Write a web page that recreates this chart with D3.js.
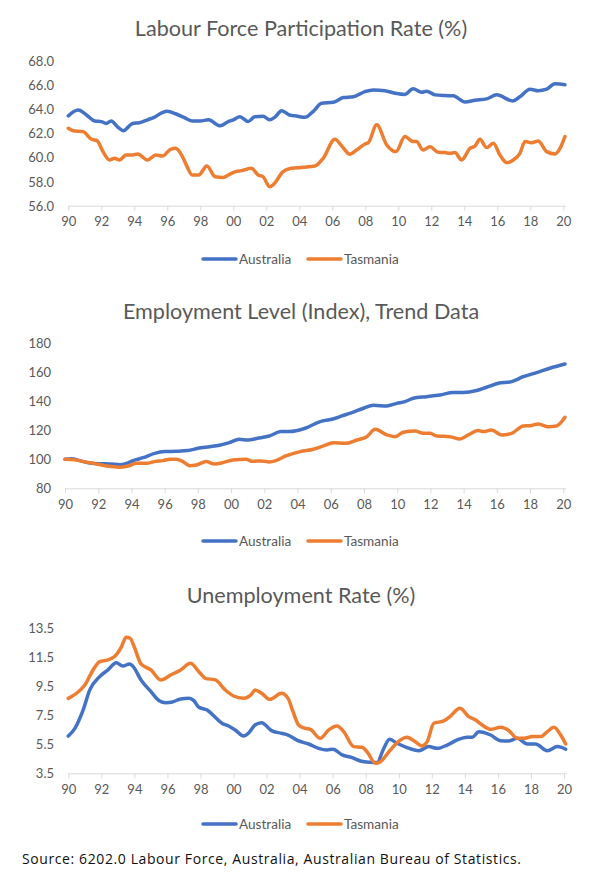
<!DOCTYPE html>
<html><head><meta charset="utf-8">
<script src="https://cdn.jsdelivr.net/npm/d3@7"></script>
<style>body{margin:0;background:#fff}svg{display:block}</style>
</head><body>
<script>
// ---- DATA (year, value) ----
const xTickYears = d3.range(1990, 2021, 2);
const seriesNames = ["Australia", "Tasmania"];
const seriesColors = ["#4472C4", "#ED7D31"];

const partAus = [[1990.0,63.42],[1990.6,63.9],[1991.1,63.5],[1991.6,63.0],[1992.0,62.95],[1992.3,62.8],[1992.6,63.0],[1993.0,62.5],[1993.34,62.2],[1993.9,62.8],[1994.3,62.85],[1994.8,63.1],[1995.2,63.3],[1995.7,63.7],[1996.0,63.8],[1996.5,63.6],[1997.0,63.3],[1997.5,63.0],[1998.0,63.0],[1998.5,63.1],[1999.2,62.6],[1999.7,62.95],[2000.0,63.1],[2000.4,63.35],[2000.9,62.95],[2001.3,63.35],[2001.8,63.4],[2002.2,63.1],[2002.5,63.3],[2002.94,63.85],[2003.4,63.5],[2003.9,63.4],[2004.34,63.3],[2004.85,63.8],[2005.35,64.47],[2006.06,64.55],[2006.67,64.94],[2007.27,65.0],[2007.98,65.43],[2008.48,65.57],[2009.19,65.5],[2009.8,65.3],[2010.4,65.2],[2010.9,65.66],[2011.41,65.38],[2011.72,65.46],[2012.22,65.16],[2012.83,65.1],[2013.33,65.08],[2014.04,64.58],[2014.65,64.72],[2015.35,64.83],[2015.96,65.16],[2016.93,64.66],[2017.37,65.0],[2017.98,65.63],[2018.48,65.5],[2018.99,65.63],[2019.5,66.07],[2020.1,65.99]];
const partTas = [[1990.0,62.4],[1990.3,62.2],[1990.9,62.12],[1991.4,61.49],[1991.74,61.38],[1992.1,60.47],[1992.5,59.78],[1992.8,59.92],[1993.1,59.78],[1993.5,60.19],[1993.9,60.19],[1994.2,60.28],[1994.8,59.78],[1995.3,60.19],[1995.7,60.1],[1996.2,60.66],[1996.5,60.74],[1996.9,60.1],[1997.2,59.23],[1997.5,58.54],[1997.9,58.54],[1998.4,59.28],[1998.9,58.4],[1999.4,58.34],[1999.7,58.54],[2000.1,58.8],[2000.5,58.9],[2001.1,59.09],[2001.5,58.54],[2001.8,58.4],[2002.2,57.57],[2002.5,57.85],[2003.0,58.8],[2003.5,59.09],[2004.24,59.17],[2004.95,59.28],[2005.45,59.92],[2006.16,61.49],[2006.57,60.94],[2007.07,60.25],[2007.47,60.6],[2007.98,61.1],[2008.18,61.2],[2008.69,62.68],[2009.3,61.02],[2009.86,60.47],[2010.4,61.71],[2010.9,61.3],[2011.1,61.3],[2011.5,60.6],[2011.92,60.88],[2012.42,60.41],[2012.83,60.39],[2013.13,60.33],[2013.43,60.39],[2013.84,59.78],[2014.34,60.74],[2014.65,60.94],[2014.95,61.49],[2015.35,60.8],[2015.76,61.16],[2016.16,60.19],[2016.57,59.56],[2016.97,59.78],[2017.37,60.33],[2017.68,61.3],[2018.08,61.2],[2018.48,61.35],[2018.99,60.47],[2019.5,60.28],[2019.8,60.74],[2020.1,61.71]];

const empAus = [[1990.0,100],[1990.4,100.4],[1990.9,99.1],[1991.5,97.4],[1992.1,96.9],[1992.7,96.8],[1993.3,96.3],[1993.7,97.2],[1994.1,99.1],[1994.7,101.1],[1995.4,104.1],[1996.0,105.3],[1996.7,105.5],[1997.4,106.0],[1998.0,107.6],[1998.7,108.7],[1999.3,109.7],[1999.9,111.5],[2000.5,113.8],[2001.0,113.3],[2001.6,114.5],[2002.3,116.1],[2003.0,119.1],[2003.5,119.1],[2004.46,121.4],[2005.36,126.0],[2006.06,127.6],[2006.67,129.9],[2007.27,132.2],[2007.97,135.2],[2008.57,137.2],[2009.37,136.8],[2009.97,138.6],[2010.47,139.8],[2010.97,142.1],[2011.78,143.2],[2012.58,144.4],[2013.38,146.0],[2013.98,146.0],[2014.78,147.4],[2015.38,149.7],[2016.08,152.4],[2016.89,153.6],[2017.59,157.0],[2018.39,159.8],[2019.19,162.8],[2020.1,165.7]];
const empTas = [[1990.0,100],[1990.6,99.6],[1991.1,98.4],[1991.9,96.8],[1992.5,95.4],[1993.0,94.9],[1993.3,94.5],[1993.8,95.4],[1994.3,97.2],[1994.9,97.2],[1995.4,98.4],[1995.9,99.1],[1996.3,100.0],[1996.7,100.0],[1997.1,98.4],[1997.5,95.6],[1997.9,96.1],[1998.5,98.4],[1999.0,96.8],[1999.5,97.7],[2000.1,99.5],[2000.9,100.0],[2001.3,98.6],[2001.8,98.9],[2002.3,98.2],[2002.7,99.1],[2003.3,102.3],[2004.16,105.3],[2004.96,106.9],[2005.56,109.2],[2006.16,111.5],[2006.87,111.0],[2007.57,113.3],[2008.17,115.6],[2008.67,120.7],[2009.37,116.8],[2009.87,115.6],[2010.37,118.6],[2011.07,119.5],[2011.57,117.9],[2011.98,117.9],[2012.38,116.1],[2013.18,115.6],[2013.78,114.0],[2014.28,116.8],[2014.88,119.8],[2015.18,119.1],[2015.68,120.2],[2016.28,116.8],[2016.89,117.9],[2017.59,123.0],[2017.99,123.2],[2018.49,124.4],[2019.09,122.5],[2019.59,123.0],[2020.1,129.0]];

const unAus = [[1990.0,6.07],[1990.4,6.6],[1990.9,7.87],[1991.3,9.25],[1991.9,10.17],[1992.4,10.63],[1992.9,11.13],[1993.3,10.9],[1993.7,11.04],[1993.9,10.9],[1994.4,9.94],[1995.0,9.13],[1995.5,8.51],[1995.9,8.37],[1996.3,8.42],[1996.8,8.63],[1997.3,8.67],[1997.6,8.51],[1997.9,8.05],[1998.4,7.87],[1998.9,7.36],[1999.3,6.95],[1999.7,6.76],[2000.1,6.49],[2000.6,6.07],[2000.9,6.26],[2001.3,6.83],[2001.7,6.99],[2002.3,6.44],[2002.9,6.26],[2003.3,6.14],[2003.9,5.75],[2004.55,5.52],[2005.15,5.22],[2005.66,5.11],[2006.02,5.16],[2006.57,4.77],[2007.17,4.58],[2007.68,4.35],[2008.28,4.26],[2008.69,4.24],[2009.05,5.11],[2009.45,5.84],[2009.9,5.57],[2010.5,5.27],[2011.21,5.06],[2011.82,5.34],[2012.32,5.22],[2012.93,5.45],[2013.54,5.8],[2014.14,5.98],[2014.44,5.98],[2014.85,6.37],[2015.56,6.14],[2016.16,5.75],[2016.67,5.73],[2017.17,5.91],[2017.78,5.52],[2018.28,5.52],[2018.99,5.06],[2019.6,5.34],[2020.1,5.16]];
const unTas = [[1990.0,8.67],[1990.5,9.02],[1991.0,9.59],[1991.5,10.63],[1991.9,11.2],[1992.4,11.32],[1992.8,11.55],[1993.2,12.19],[1993.5,12.88],[1993.74,12.81],[1994.0,12.19],[1994.4,11.04],[1995.0,10.63],[1995.6,9.94],[1996.2,10.28],[1996.8,10.63],[1997.4,11.09],[1997.9,10.51],[1998.3,10.05],[1998.9,9.94],[1999.5,9.25],[2000.0,8.83],[2000.6,8.67],[2001.1,8.97],[2001.3,9.25],[2001.7,9.02],[2002.2,8.6],[2002.9,9.02],[2003.3,8.67],[2003.6,7.75],[2003.94,6.83],[2004.34,6.6],[2004.65,6.53],[2005.25,5.91],[2005.76,6.49],[2006.26,6.76],[2006.67,6.37],[2007.27,5.34],[2007.78,5.29],[2008.08,4.99],[2008.59,4.19],[2008.89,4.3],[2009.49,5.11],[2010.1,5.8],[2010.5,5.98],[2010.91,5.75],[2011.41,5.39],[2011.72,5.68],[2012.12,6.95],[2012.73,7.11],[2013.13,7.45],[2013.7,7.98],[2014.24,7.41],[2014.65,7.18],[2015.05,6.83],[2015.56,6.53],[2016.16,6.67],[2016.67,6.44],[2017.17,5.91],[2017.58,5.91],[2018.08,6.03],[2018.59,6.03],[2018.99,6.37],[2019.39,6.67],[2019.8,6.14],[2020.1,5.52]];

const titles = ["Labour Force Participation Rate (%)", "Employment Level (Index), Trend Data", "Unemployment Rate (%)"];
const yTicks1 = [56, 58, 60, 62, 64, 66, 68];
const yTicks2 = [80, 100, 120, 140, 160, 180];
const yTicks3 = [3.5, 5.5, 7.5, 9.5, 11.5, 13.5];
const sourceText = "Source: 6202.0 Labour Force, Australia, Australian Bureau of Statistics.";

// ---- DRAW ----
const W = 600, H = 874;
const FONT = "Lato, 'Open Sans', sans-serif";
const TXT = "#595959";
const svg = d3.select("body").append("svg").attr("width", W).attr("height", H);

const charts = [
  {title: titles[0], titleY: 28, series: [partAus, partTas], yTicks: yTicks1, yDom: [56, 68], yRange: [205.7, 60.5], xRange: [68.3, 563.3], fmt: d3.format(".1f"), labelX: 54, legendY: 259},
  {title: titles[1], titleY: 311, series: [empAus, empTas], yTicks: yTicks2, yDom: [80, 180], yRange: [488.3, 343.3], xRange: [65, 563.3], fmt: d3.format("d"), labelX: 51, legendY: 541},
  {title: titles[2], titleY: 595, series: [unAus, unTas], yTicks: yTicks3, yDom: [3.5, 13.5], yRange: [773.3, 628.3], xRange: [68.3, 564], fmt: d3.format(".1f"), labelX: 54, legendY: 824}
];

charts.forEach(c => {
  const g = svg.append("g");
  const x = d3.scaleLinear().domain([1990, 2020]).range(c.xRange);
  const y = d3.scaleLinear().domain(c.yDom).range(c.yRange);

  g.append("text").attr("x", 301).attr("y", c.titleY).attr("text-anchor", "middle")
    .attr("dominant-baseline", "central").attr("font-family", FONT).attr("font-size", 21.6)
    .attr("fill", TXT).text(c.title);

  // y labels
  g.selectAll(".yl").data(c.yTicks).join("text")
    .attr("x", c.labelX).attr("y", d => y(d)).attr("text-anchor", "end")
    .attr("dominant-baseline", "central").attr("font-family", FONT).attr("font-size", 13)
    .attr("fill", TXT).text(d => c.fmt(d));

  // x axis
  const axisY = y(c.yDom[0]);
  const xAxis = d3.axisBottom(x).tickValues(xTickYears).tickSize(5).tickPadding(6)
    .tickFormat(d => String(d % 100).padStart(2, "0"));
  const ax = g.append("g").attr("transform", `translate(0,${axisY})`).call(xAxis);
  ax.select(".domain").attr("stroke", "#d9d9d9").attr("d", `M${c.xRange[0]},0.5H${c.xRange[1] + 3}`);
  ax.selectAll(".tick line").attr("stroke", "#d9d9d9");
  ax.selectAll(".tick text").attr("font-family", FONT).attr("font-size", 13).attr("fill", TXT);

  // lines
  const line = d3.line().x(d => x(d[0])).y(d => y(d[1])).curve(d3.curveMonotoneX);
  c.series.forEach((s, i) => {
    g.append("path").datum(s).attr("d", line).attr("fill", "none")
      .attr("stroke", seriesColors[i]).attr("stroke-width", 3.5)
      .attr("stroke-linejoin", "round").attr("stroke-linecap", "round");
  });

  // legend
  const lx = [203, 308];
  seriesNames.forEach((n, i) => {
    g.append("line").attr("x1", lx[i]).attr("x2", lx[i] + 33).attr("y1", c.legendY).attr("y2", c.legendY)
      .attr("stroke", seriesColors[i]).attr("stroke-width", 3.5).attr("stroke-linecap", "round");
    g.append("text").attr("x", lx[i] + 36).attr("y", c.legendY).attr("dominant-baseline", "central")
      .attr("font-family", FONT).attr("font-size", 13.6).attr("fill", TXT).text(n);
  });
});

svg.append("text").attr("x", 22).attr("y", 858).attr("dominant-baseline", "central")
  .attr("font-family", "'Open Sans', sans-serif").attr("font-size", 14).attr("letter-spacing", 0.6)
  .attr("fill", "#111").text(sourceText);
</script>
</body></html>
